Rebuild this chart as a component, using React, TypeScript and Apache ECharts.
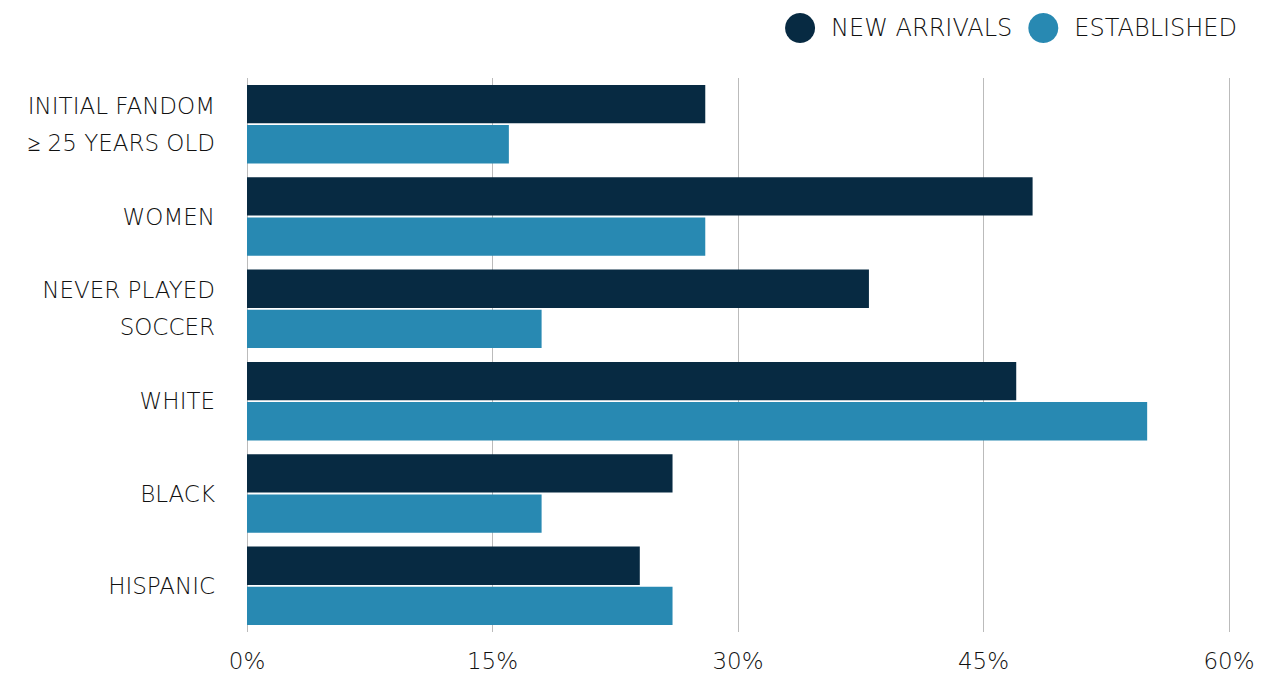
import React, { useEffect, useRef } from "react";
import * as echarts from "echarts";

const categories = [
  "INITIAL FANDOM\n≥ 25 YEARS OLD",
  "WOMEN",
  "NEVER PLAYED\nSOCCER",
  "WHITE",
  "BLACK",
  "HISPANIC",
];
const newArrivals = [28, 48, 38, 47, 26, 24];
const established = [16, 28, 18, 55, 18, 26];
const seriesNames = ["NEW ARRIVALS", "ESTABLISHED"];
const colors = ["#072a42", "#2889b2"];
const FONT = "DejaVu Sans";

export default function App() {
  const ref = useRef<HTMLDivElement>(null);
  useEffect(() => {
    if (!ref.current) return;
    const chart = echarts.init(ref.current, null, { renderer: "svg" });
    chart.setOption({
      animation: false,
      color: colors,
      legend: {
        right: 22,
        top: 8,
        itemWidth: 30,
        itemHeight: 30,
        itemGap: 16,
        icon: "circle",
        textStyle: {
          fontFamily: FONT,
          fontSize: 24,
          color: "#111",
          fontWeight: 300,
          padding: [0, 0, 0, 11],
        },
        data: seriesNames,
      },
      grid: { left: 247, right: 35, top: 78, bottom: 42, containLabel: false },
      xAxis: {
        type: "value",
        min: 0,
        max: 60,
        interval: 15,
        axisLine: { show: false },
        axisTick: { show: false },
        splitLine: { show: true, lineStyle: { color: "#bbbbbb", width: 1 } },
        axisLabel: {
          formatter: "{value}%",
          fontFamily: FONT,
          fontSize: 23,
          fontWeight: 300,
          color: "#111",
          margin: 17,
        },
      },
      yAxis: {
        type: "category",
        inverse: true,
        data: categories,
        axisLine: { show: false },
        axisTick: { show: false },
        axisLabel: {
          fontFamily: FONT,
          fontSize: 23,
          fontWeight: 300,
          color: "#111",
          margin: 32,
          lineHeight: 37,
          align: "right",
        },
      },
      series: [
        {
          name: seriesNames[0],
          type: "bar",
          data: newArrivals,
          barCategoryGap: "15%",
          barGap: "5%",
        },
        {
          name: seriesNames[1],
          type: "bar",
          data: established,
          barCategoryGap: "15%",
          barGap: "5%",
        },
      ],
    });
    return () => chart.dispose();
  }, []);
  return (
    <div
      ref={ref}
      style={{ position: "absolute", left: 0, top: 0, width: 1264, height: 674 }}
    />
  );
}
